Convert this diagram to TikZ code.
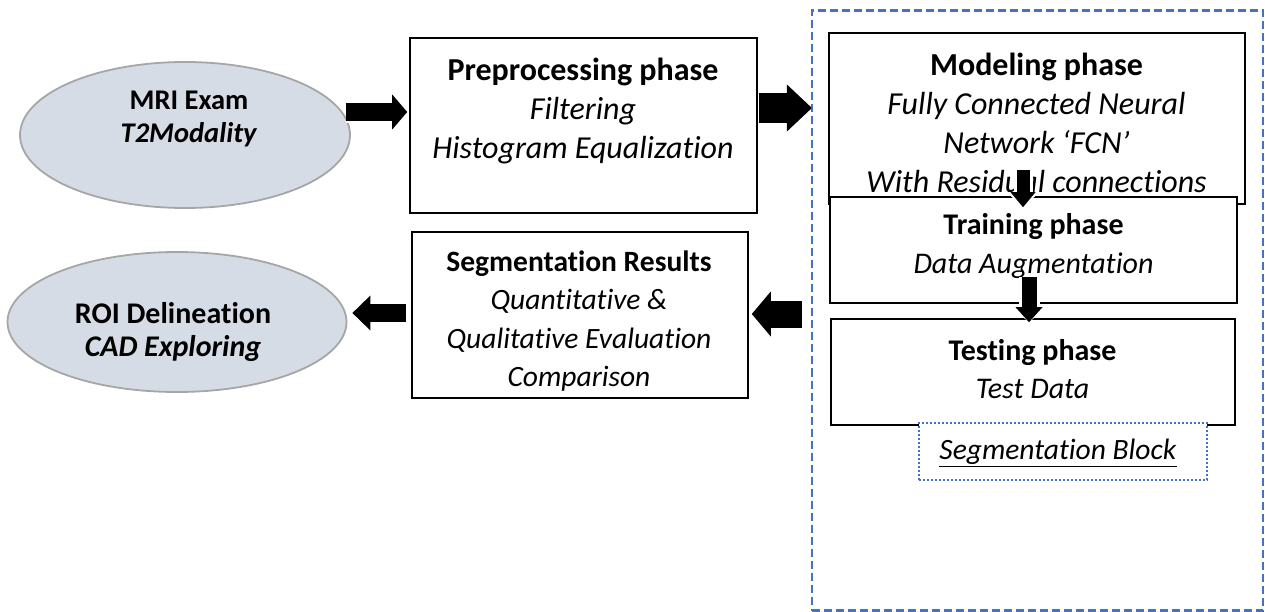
\documentclass[tikz,border=0pt]{standalone}
\usepackage{fontspec}
\setmainfont{Carlito}[RawFeature=-liga]
\usetikzlibrary{arrows.meta,shapes.geometric,calc}
\definecolor{ovalfill}{HTML}{D6DCE5}
\definecolor{ovalline}{HTML}{A6A6A6}
\definecolor{blockblue}{HTML}{4472C4}
\begin{document}
\begin{tikzpicture}[x=1pt,y=-1pt,
  box/.style={draw=black, line width=1.6pt, fill=white, rectangle, inner sep=0pt},
  oval/.style={ellipse, draw=ovalline, line width=1.8pt, fill=ovalfill, inner sep=0pt},
  txt/.style={align=center, font=\fontsize{30}{38.5}\selectfont, inner sep=0pt},
  bigtxt/.style={align=center, font=\fontsize{32}{39}\selectfont, inner sep=0pt},
  restxtstyle/.style={align=center, font=\fontsize{29.5}{38.5}\selectfont, inner sep=0pt},
  ovaltxt/.style={align=center, font=\fontsize{#1}{33}\selectfont\bfseries, inner sep=0pt},
  blockarrow/.style n args={5}{line width=#1,
     -{Triangle[length=#2,width=#3,line width=0pt]},
     preaction={draw=white, line width=#4, -{Triangle[length=#2,width=#5,line width=0pt]}}}
]
\useasboundingbox (0,0) rectangle (1265,612);
% outer dashed container
\node[draw=blockblue, line width=2.2pt, dash pattern=on 8pt off 4pt, rectangle, inner sep=0pt,
      minimum width=451pt, minimum height=600pt] (segarea) at (1037.5,310.5) {};
% shapes
\node[oval, minimum width=330pt, minimum height=146pt] (mri) at (185,135) {};
\node[box, minimum width=347pt, minimum height=175pt] (prep) at (583.5,125.5) {};
\node[box, minimum width=416pt, minimum height=171pt] (model) at (1037,118.5) {};
\node[box, minimum width=407pt, minimum height=106pt] (train) at (1033.5,250) {};
\node[box, minimum width=404pt, minimum height=106pt] (test) at (1033,372) {};
\node[draw=blockblue, line width=2pt, dash pattern=on 2pt off 2pt, fill=white, rectangle, inner sep=0pt,
      minimum width=288pt, minimum height=57pt] (segblock) at (1063,451.5) {};
\node[box, minimum width=336pt, minimum height=166pt] (results) at (580,315) {};
\node[oval, minimum width=339pt, minimum height=140pt] (roi) at (177,322) {};
% texts
\node[ovaltxt=28.5] (mritxt) at (189,119.5) {MRI Exam\\\textit{T2Modality}};
\node[bigtxt] (preptxt) at (583,111.5) {\textbf{Preprocessing phase}\\\textit{Filtering}\\\textit{Histogram Equalization}};
\node[bigtxt] (modeltxt) at (1036.5,123) {\textbf{Modeling phase}\\\textit{Fully Connected Neural}\\\textit{Network ‘FCN’}\\\textit{With Residual connections}};
\node[txt] (traintxt) at (1033.5,246) {\textbf{Training phase}\\\textit{Data Augmentation}};
\node[txt] (testtxt) at (1032.5,369) {\textbf{Testing phase}\\\textit{Test Data}};
\node[txt, font=\fontsize{29.5}{38.5}\selectfont] (segtxt) at (1058,453) {\underline{\textit{Segmentation Block}}};
\node[restxtstyle] (restxt) at (579,321) {\textbf{Segmentation Results}\\\textit{Quantitative \&}\\\textit{Qualitative Evaluation}\\\textit{Comparison}};
\node[ovaltxt=30] (roitxt) at (173,332) {ROI Delineation\\\textit{CAD Exploring}};
% arrows
\draw[blockarrow={18pt}{15pt}{35pt}{22pt}{41pt}] ([xshift=-5pt]mri.east |- 0,112) coordinate (a1s) -- ([xshift=-2pt]prep.west |- a1s);
\draw[blockarrow={30pt}{25pt}{47pt}{36pt}{55pt}] ([xshift=1pt]prep.east |- 0,108) coordinate (a2s) -- ([xshift=1pt]segarea.west |- a2s);
\draw[blockarrow={13pt}{15pt}{25pt}{19pt}{33pt}] ([xshift=-14pt]model.south |- 0,170) coordinate (a3s) -- ([yshift=-11pt]train.north -| a3s);
\draw[blockarrow={15pt}{15pt}{27pt}{21pt}{35pt}] ([xshift=-4.5pt]train.south |- 0,277) coordinate (a4s) -- ([yshift=-4pt]test.north -| a4s);
\draw[blockarrow={27pt}{19pt}{45pt}{33pt}{53pt}] ([xshift=-9pt]segarea.west |- 0,314) coordinate (a5s) -- ([xshift=3pt]results.east |- a5s);
\draw[blockarrow={18pt}{18pt}{35pt}{24pt}{43pt}] ([xshift=-5pt]results.west |- 0,313) coordinate (a6s) -- ([xshift=5pt]roi.east |- a6s);
\end{tikzpicture}
\end{document}
